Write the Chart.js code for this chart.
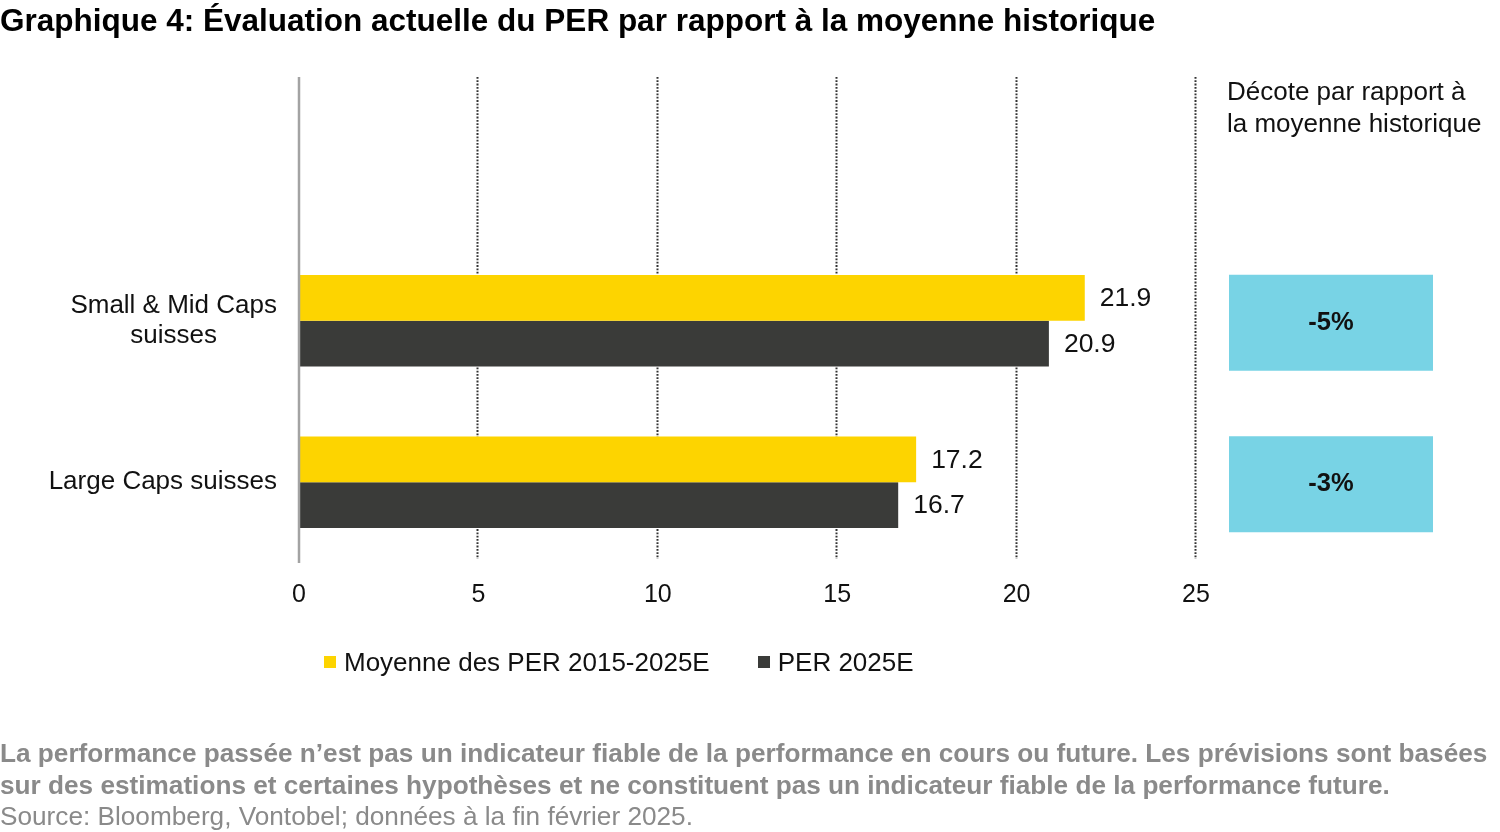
<!DOCTYPE html>
<html lang="fr">
<head>
<meta charset="utf-8">
<title>Graphique 4</title>
<script src="https://cdn.jsdelivr.net/npm/chart.js@4"></script>
<style>
  html, body { margin: 0; padding: 0; background: #fff; }
  body { width: 1500px; height: 832px; position: relative; overflow: hidden; font-family: "Liberation Sans", Arial, sans-serif; }
  #wrap { position: absolute; left: 0; top: 0; width: 1500px; height: 832px; }
  .title { position: absolute; left: 0; top: 2px; font-size: 31.5px; line-height: 36px; font-weight: bold; color: #000; white-space: nowrap; }
  .legend { position: absolute; top: 647px; left: 324px; display: flex; gap: 48px; font-size: 26px; color: #111; line-height: 30px; white-space: nowrap; }
  .legend span.item { display: flex; align-items: center; }
  .legend i { display: inline-block; width: 12px; height: 12px; margin-right: 8px; }
  .note { position: absolute; left: 0; top: 738px; font-size: 26.2px; line-height: 31.5px; color: #8a8a8a; white-space: nowrap; }
  .note b { font-weight: bold; }
</style>
</head>
<body>
<div id="wrap"><canvas id="perChart"></canvas></div>
<div class="title">Graphique 4: Évaluation actuelle du PER par rapport à la moyenne historique</div>
<div class="legend" id="legend"></div>
<div class="note">
  <b>La performance passée n’est pas un indicateur fiable de la performance en cours ou future. Les prévisions sont basées</b><br>
  <b>sur des estimations et certaines hypothèses et ne constituent pas un indicateur fiable de la performance future.</b><br>
  Source: Bloomberg, Vontobel; données à la fin février 2025.
</div>
<script>
const categories = [['Small & Mid Caps', 'suisses'], ['Large Caps suisses']];
const seriesNames = ['Moyenne des PER 2015-2025E', 'PER 2025E'];
const avgPer = [21.9, 17.2];
const per2025 = [20.9, 16.7];
const discounts = ['-5%', '-3%'];
const discountHeader = ['Décote par rapport à', 'la moyenne historique'];
const xMin = 0, xMax = 25, xStep = 5;

const colors = ['#fdd400', '#3a3b39'];
const FONT = '"Liberation Sans", Arial, sans-serif';

// html legend built from the series names
document.getElementById('legend').innerHTML = seriesNames
  .map((name, i) => `<span class="item"><i style="background:${colors[i]}"></i>${name}</span>`)
  .join('');

// dotted grid + axis line, stretched up to the header zone
const extendedGrid = {
  id: 'extendedGrid',
  beforeDatasetsDraw(chart, args, opts) {
    const { ctx, chartArea, scales: { x } } = chart;
    ctx.save();
    ctx.strokeStyle = '#333';
    ctx.lineWidth = 2;
    ctx.setLineDash([1.8, 1.5]);
    x.ticks.forEach(t => {
      if (t.value === xMin) return;
      const px = Math.round(x.getPixelForValue(t.value)) - 0.5;
      ctx.beginPath();
      ctx.moveTo(px, opts.top);
      ctx.lineTo(px, chartArea.bottom - 4);
      ctx.stroke();
    });
    ctx.restore();
  },
  afterDatasetsDraw(chart, args, opts) {
    const { ctx, chartArea, scales: { x } } = chart;
    const px = x.getPixelForValue(xMin);
    ctx.save();
    ctx.strokeStyle = '#a3a3a3';
    ctx.lineWidth = 2.5;
    ctx.beginPath();
    ctx.moveTo(px, opts.top);
    ctx.lineTo(px, chartArea.bottom);
    ctx.stroke();
    ctx.restore();
  }
};

// category labels: block right-aligned, lines centred inside the block
const catLabels = {
  id: 'catLabels',
  afterDraw(chart) {
    const { ctx, chartArea, scales: { y } } = chart;
    ctx.save();
    ctx.font = `26px ${FONT}`;
    ctx.fillStyle = '#111';
    ctx.textAlign = 'center';
    ctx.textBaseline = 'middle';
    const right = chartArea.left - 22;
    const lh = 30;
    categories.forEach((lab, i) => {
      const lines = Array.isArray(lab) ? lab : [lab];
      const w = Math.max(...lines.map(l => ctx.measureText(l).width));
      const yc = y.getPixelForValue(i);
      lines.forEach((l, k) => {
        ctx.fillText(l, right - w / 2, yc - (lines.length - 1) * lh / 2 + k * lh);
      });
    });
    ctx.restore();
  }
};

// value labels at bar ends
const valueLabels = {
  id: 'valueLabels',
  afterDatasetsDraw(chart) {
    const { ctx } = chart;
    ctx.save();
    ctx.font = `26.5px ${FONT}`;
    ctx.fillStyle = '#111';
    ctx.textAlign = 'left';
    ctx.textBaseline = 'middle';
    chart.data.datasets.forEach((ds, di) => {
      chart.getDatasetMeta(di).data.forEach((bar, i) => {
        ctx.fillText(ds.data[i].toFixed(1), bar.x + 15, bar.y + 1);
      });
    });
    ctx.restore();
  }
};

// discount boxes on the right
const discountBoxes = {
  id: 'discountBoxes',
  afterDraw(chart, args, opts) {
    const { ctx, scales: { y } } = chart;
    ctx.save();
    ctx.font = `26px ${FONT}`;
    ctx.fillStyle = '#111';
    ctx.textAlign = 'left';
    ctx.textBaseline = 'middle';
    discountHeader.forEach((l, k) => ctx.fillText(l, opts.left - 2, 93 + k * 32));
    discounts.forEach((d, i) => {
      const yc = y.getPixelForValue(i) + 2;
      ctx.fillStyle = '#78d3e5';
      ctx.fillRect(opts.left, yc - 48, opts.width, 96);
      ctx.fillStyle = '#111';
      ctx.font = `bold 25.5px ${FONT}`;
      ctx.textAlign = 'center';
      ctx.fillText(d, opts.left + opts.width / 2, yc);
    });
    ctx.restore();
  }
};

new Chart(document.getElementById('perChart'), {
  type: 'bar',
  data: {
    labels: categories,
    datasets: [
      { label: seriesNames[0], data: avgPer, backgroundColor: colors[0] },
      { label: seriesNames[1], data: per2025, backgroundColor: colors[1] }
    ]
  },
  options: {
    indexAxis: 'y',
    responsive: true,
    maintainAspectRatio: false,
    animation: false,
    devicePixelRatio: 1,
    layout: { padding: { top: 240, right: 304, bottom: 209, left: 0 } },
    datasets: { bar: { categoryPercentage: 0.567, barPercentage: 1.0 } },
    plugins: {
      legend: { display: false },
      tooltip: { enabled: false },
      extendedGrid: { top: 77 },
      discountBoxes: { left: 1229, width: 204 }
    },
    scales: {
      x: {
        min: xMin,
        max: xMax,
        grid: { display: false, drawTicks: false },
        border: { display: false },
        ticks: { stepSize: xStep, padding: 17, color: '#111', font: { family: FONT, size: 25 } },
        afterFit(scale) { scale.height = 60; }
      },
      y: {
        grid: { display: false, drawTicks: false },
        border: { display: false },
        ticks: { display: false },
        afterFit(scale) { scale.width = 299; }
      }
    }
  },
  plugins: [extendedGrid, catLabels, valueLabels, discountBoxes]
});
</script>
</body>
</html>
